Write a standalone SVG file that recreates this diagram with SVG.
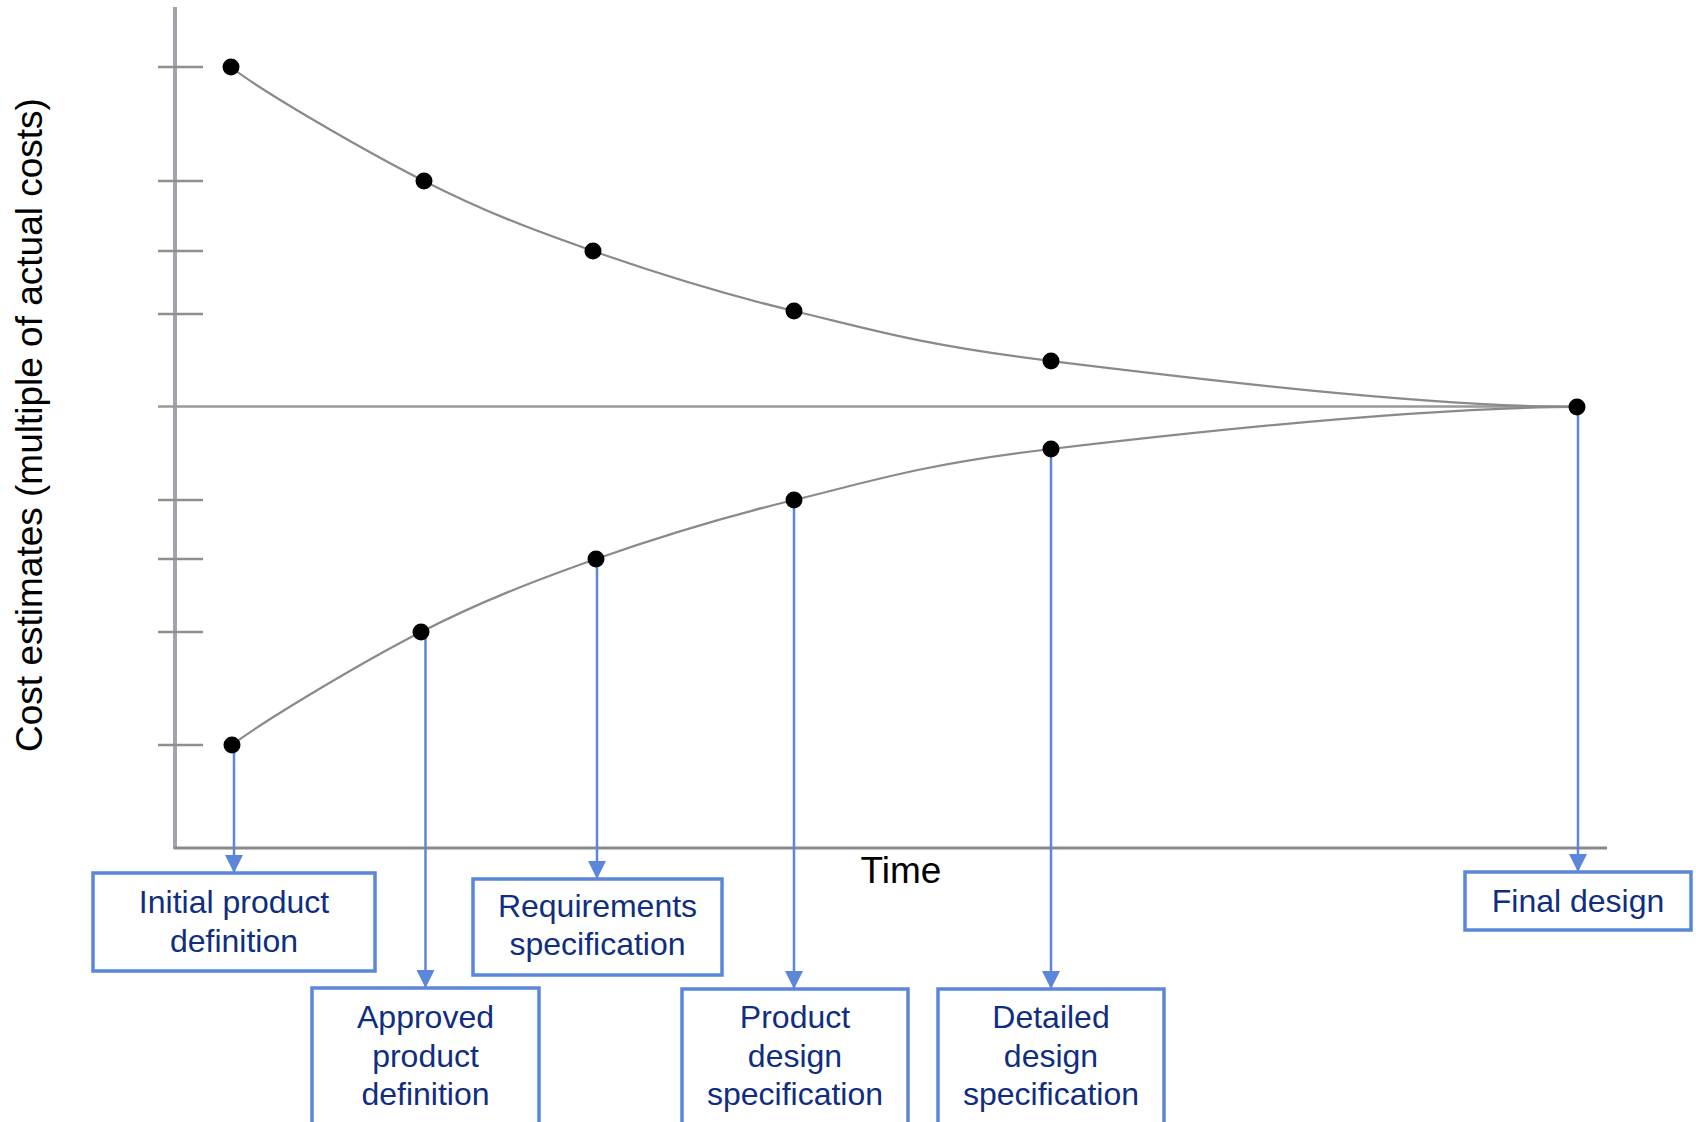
<svg xmlns="http://www.w3.org/2000/svg" width="1696" height="1122" viewBox="0 0 1696 1122">
  <style>
    .axis { stroke: #8a8a8a; stroke-width: 3; fill: none; }
    .vaxis { stroke: #a3a3ab; stroke-width: 4; fill: none; }
    .tick { stroke: #8f8f8f; stroke-width: 2.5; fill: none; }
    .mid { stroke: #999999; stroke-width: 2.5; fill: none; }
    .curve { stroke: #8a8a8a; stroke-width: 2.2; fill: none; }
    .dot { fill: #000000; }
    .link { stroke: #5b86d9; stroke-width: 2.5; fill: none; marker-end: url(#arrow); }
    .box { fill: #ffffff; stroke: #5b86d9; stroke-width: 3.5; }
    .lbl { font-family: "Liberation Sans", Arial, sans-serif; font-size: 32px; fill: #0f2e80; text-anchor: middle; }
    .axlbl { font-family: "Liberation Sans", Arial, sans-serif; font-size: 37px; fill: #000000; text-anchor: middle; }
  </style>
  <defs>
    <marker id="arrow" markerUnits="userSpaceOnUse" markerWidth="18" markerHeight="18" viewBox="0 0 16 16" refX="16" refY="8" orient="auto">
      <path d="M0,0 L16,8 L0,16 Z" fill="#5b86d9"/>
    </marker>
  </defs>
  <rect width="1696" height="1122" fill="#ffffff"/>

  <!-- chart axes, ticks and reference line -->
  <g id="axes">
    <line class="vaxis" x1="175" y1="7" x2="175" y2="849"/>
    <line class="axis" x1="174" y1="848" x2="1607" y2="848"/>
    <line class="mid" x1="158" y1="406.5" x2="1578" y2="406.5"/>
    <g class="tick">
      <line x1="158" y1="67" x2="203" y2="67"/>
      <line x1="158" y1="181" x2="203" y2="181"/>
      <line x1="158" y1="251" x2="203" y2="251"/>
      <line x1="158" y1="314" x2="203" y2="314"/>
      <line x1="158" y1="500" x2="203" y2="500"/>
      <line x1="158" y1="559" x2="203" y2="559"/>
      <line x1="158" y1="632" x2="203" y2="632"/>
      <line x1="158" y1="745" x2="203" y2="745"/>
    </g>
    <text class="axlbl" x="901" y="883">Time</text>
    <text class="axlbl" transform="translate(42 425) rotate(-90)">Cost estimates (multiple of actual costs)</text>
  </g>

  <!-- estimate envelope -->
  <g id="curves">
    <path class="curve" d="M231,67 C261,91 363.7,150.3 424,181 C484.3,211.7 531.3,229.3 593,251 C654.7,272.7 717.7,292.7 794,311 C870.3,329.3 920.3,345 1051,361 C1181.7,377 1420,406.5 1578,407"/>
    <path class="curve" d="M232,745 C262,722 360.3,663 421,632 C481.7,601 533.8,581 596,559 C658.2,537 718.2,518.3 794,500 C869.8,481.7 920.3,464.5 1051,449 C1181.7,433.5 1420,407 1578,407"/>
  </g>

  <!-- connectors from milestones to labels -->
  <g id="connectors">
    <line class="link" x1="234" y1="745" x2="234" y2="873"/>
    <line class="link" x1="425.5" y1="632" x2="425.5" y2="988"/>
    <line class="link" x1="597" y1="559" x2="597" y2="879"/>
    <line class="link" x1="794" y1="500" x2="794" y2="989"/>
    <line class="link" x1="1051" y1="449" x2="1051" y2="989"/>
    <line class="link" x1="1578" y1="407" x2="1578" y2="872"/>
  </g>

  <g id="dots">
    <circle class="dot" cx="231" cy="67" r="8.5"/>
    <circle class="dot" cx="424" cy="181" r="8.5"/>
    <circle class="dot" cx="593" cy="251" r="8.5"/>
    <circle class="dot" cx="794" cy="311" r="8.5"/>
    <circle class="dot" cx="1051" cy="361" r="8.5"/>
    <circle class="dot" cx="1577" cy="407" r="8.5"/>
    <circle class="dot" cx="232" cy="745" r="8.5"/>
    <circle class="dot" cx="421" cy="632" r="8.5"/>
    <circle class="dot" cx="596" cy="559" r="8.5"/>
    <circle class="dot" cx="794" cy="500" r="8.5"/>
    <circle class="dot" cx="1051" cy="449" r="8.5"/>
  </g>

  <!-- milestone labels -->
  <g id="initial-product-definition">
    <rect class="box" x="93" y="873" width="282" height="98"/>
    <text class="lbl" x="234" y="913">Initial product</text>
    <text class="lbl" x="234" y="952">definition</text>
  </g>
  <g id="approved-product-definition">
    <rect class="box" x="312" y="988" width="227" height="160"/>
    <text class="lbl" x="425.5" y="1028">Approved</text>
    <text class="lbl" x="425.5" y="1067">product</text>
    <text class="lbl" x="425.5" y="1105">definition</text>
  </g>
  <g id="requirements-specification">
    <rect class="box" x="473" y="879" width="249" height="96"/>
    <text class="lbl" x="597.5" y="917">Requirements</text>
    <text class="lbl" x="597.5" y="955">specification</text>
  </g>
  <g id="product-design-specification">
    <rect class="box" x="682" y="989" width="226" height="160"/>
    <text class="lbl" x="795" y="1028">Product</text>
    <text class="lbl" x="795" y="1067">design</text>
    <text class="lbl" x="795" y="1105">specification</text>
  </g>
  <g id="detailed-design-specification">
    <rect class="box" x="938" y="989" width="226" height="160"/>
    <text class="lbl" x="1051" y="1028">Detailed</text>
    <text class="lbl" x="1051" y="1067">design</text>
    <text class="lbl" x="1051" y="1105">specification</text>
  </g>
  <g id="final-design">
    <rect class="box" x="1465" y="872" width="226" height="58"/>
    <text class="lbl" x="1578" y="912">Final design</text>
  </g>
</svg>
